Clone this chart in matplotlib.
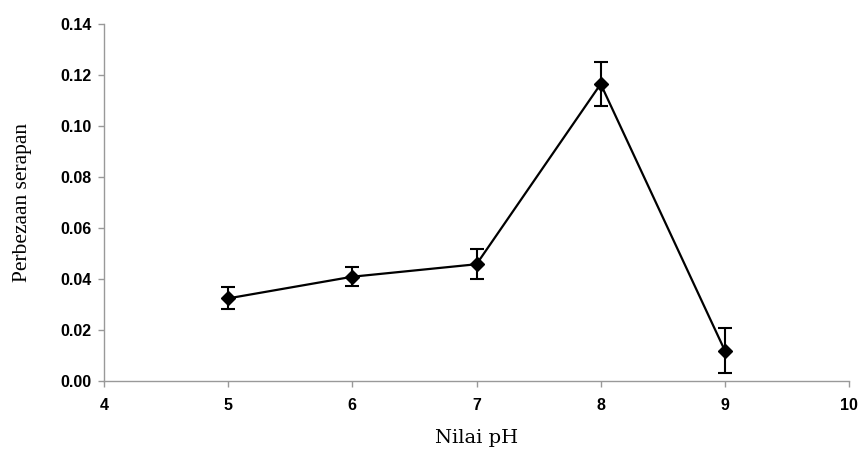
import matplotlib
matplotlib.use("Agg")
import matplotlib.pyplot as plt

ph = [5, 6, 7, 8, 9]
absorbance_diff = [0.0324, 0.0409, 0.0458, 0.1165, 0.0119]
errors = [0.0043, 0.0038, 0.0059, 0.0088, 0.0088]

x_ticks = [4, 5, 6, 7, 8, 9, 10]
y_ticks = [0.00, 0.02, 0.04, 0.06, 0.08, 0.10, 0.12, 0.14]

fig = plt.figure(figsize=(8.62, 4.54), dpi=100)
ax = fig.add_axes([0.1206, 0.1608, 0.8644, 0.7862])

ax.errorbar(ph, absorbance_diff, yerr=errors, color="black", linewidth=1.6,
            marker="D", markersize=7, elinewidth=1.5, capsize=5, capthick=1.5)

ax.set_xlim(4, 10)
ax.set_ylim(0, 0.14)
ax.set_xticks(x_ticks)
ax.set_yticks(y_ticks)
ax.set_yticklabels([f"{v:.2f}" for v in y_ticks])

for side in ("top", "right"):
    ax.spines[side].set_visible(False)
for side in ("left", "bottom"):
    ax.spines[side].set_color("#999999")
    ax.spines[side].set_linewidth(1.0)

ax.tick_params(direction="out", length=4, width=1.0, color="#999999",
               labelsize=11.5)
ax.tick_params(axis="x", pad=8)
ax.tick_params(axis="y", pad=5)
for lbl in ax.get_xticklabels() + ax.get_yticklabels():
    lbl.set_family("Liberation Sans")
    lbl.set_fontweight("bold")

ax.set_xlabel("Nilai pH", family="DejaVu Serif", fontsize=14, labelpad=12)
ax.set_ylabel("Perbezaan serapan", family="Liberation Serif", fontsize=15.5,
              labelpad=20)

fig.savefig("out.png", dpi=100)
